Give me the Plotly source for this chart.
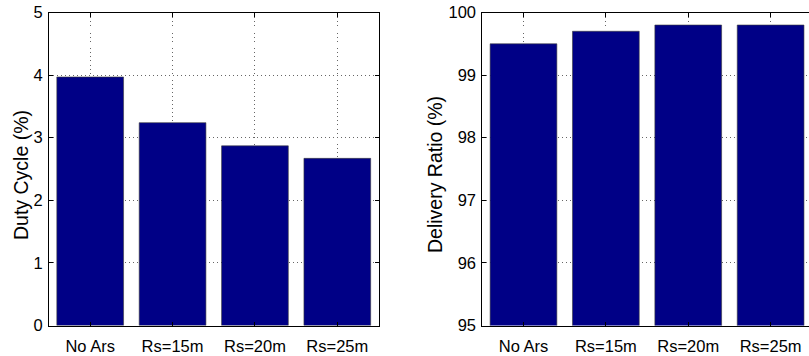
import plotly.graph_objects as go

categories = ["No Ars", "Rs=15m", "Rs=20m", "Rs=25m"]
duty_cycle = [3.97, 3.24, 2.87, 2.67]
delivery_ratio = [99.5, 99.7, 99.8, 99.8]
duty_ticks = [0, 1, 2, 3, 4, 5]
delivery_ticks = [95, 96, 97, 98, 99, 100]

W, H = 809, 356
BAR = "#000086"
FONT = "Liberation Sans, Arial, sans-serif"
TICKF = 16.5
TITLEF = 19.5

fig = go.Figure()
fig.add_trace(go.Bar(x=categories, y=duty_cycle, xaxis="x", yaxis="y",
                     marker=dict(color=BAR, line=dict(color="#3a3a3a", width=0.6)),
                     showlegend=False))
fig.add_trace(go.Bar(x=categories, y=delivery_ratio, xaxis="x2", yaxis="y2",
                     marker=dict(color=BAR, line=dict(color="#3a3a3a", width=0.6)),
                     showlegend=False))

ydom = [1 - 325.5 / H, 1 - 12.5 / H]
x1dom = [49 / W, 378.5 / W]
x2dom = [482.3 / W, 1.0]
unit = (378.5 - 49) / 4
x2end = -0.5 + (W - 482.3) / unit

grid = dict(showgrid=True, gridcolor="#666666", gridwidth=1, griddash="1px,3px")
common_x = dict(type="category", showline=True, linecolor="black", linewidth=1,
                ticks="inside", ticklen=4, tickcolor="black",
                tickfont=dict(family=FONT, size=TICKF, color="black"),
                zeroline=False, ticklabelstandoff=6, automargin=False, **grid)
common_y = dict(showline=True, linecolor="black", linewidth=1,
                ticks="inside", ticklen=4, tickcolor="black",
                tickfont=dict(family=FONT, size=TICKF, color="black"),
                zeroline=False, ticklabelstandoff=2, automargin=False, **grid)

fig.update_layout(
    template="none",
    width=W, height=H,
    margin=dict(l=0, r=0, t=0, b=0, pad=0),
    paper_bgcolor="white", plot_bgcolor="white",
    bargap=0.19,
    xaxis=dict(domain=x1dom, anchor="y", range=[-0.5, 3.5], mirror="ticks",
               categoryorder="array", categoryarray=categories, **common_x),
    yaxis=dict(domain=ydom, anchor="x", range=[0, 5], tickvals=duty_ticks,
               mirror="ticks", **common_y),
    xaxis2=dict(domain=x2dom, anchor="y2", range=[-0.5, x2end], mirror="ticks",
                categoryorder="array", categoryarray=categories, **common_x),
    yaxis2=dict(domain=ydom, anchor="x2", range=[95, 100], tickvals=delivery_ticks,
                mirror=False, **common_y),
    annotations=[
        dict(text="Duty Cycle (%)", x=21 / W, y=1 - 175 / H, xref="paper", yref="paper",
             textangle=-90, showarrow=False, xanchor="center", yanchor="middle",
             font=dict(family=FONT, size=TITLEF, color="black")),
        dict(text="Delivery Ratio (%)", x=435 / W, y=1 - 175 / H, xref="paper", yref="paper",
             textangle=-90, showarrow=False, xanchor="center", yanchor="middle",
             font=dict(family=FONT, size=TITLEF, color="black")),
    ],
)

fig.write_html("out.html",
               post_script="document.body.style.margin='0';document.body.style.overflow='hidden';")
